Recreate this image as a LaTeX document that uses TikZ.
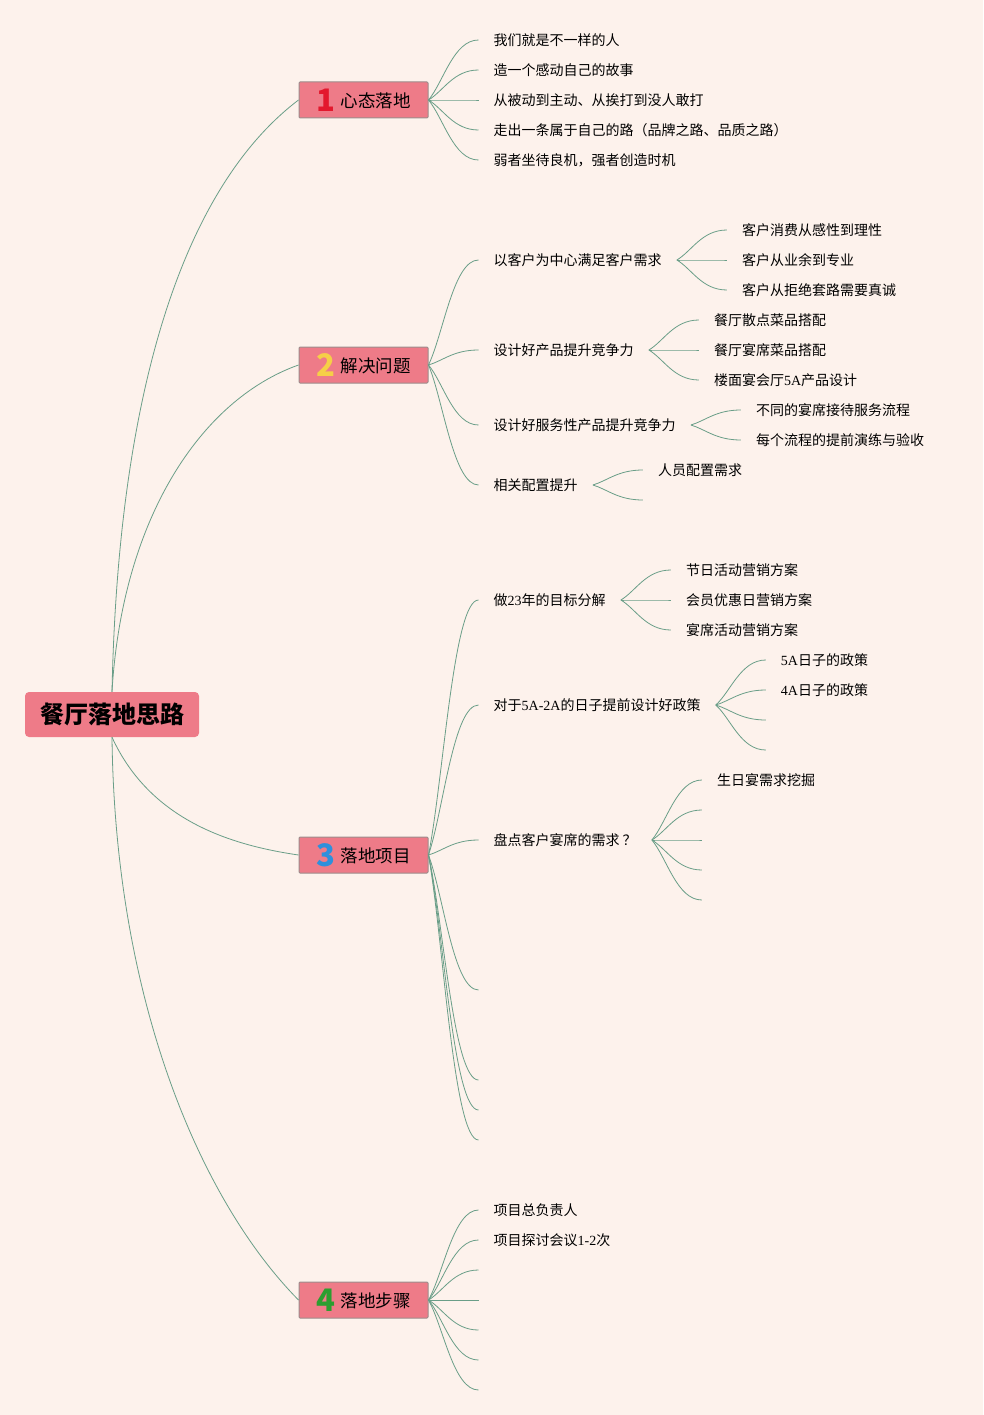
\documentclass[tikz,border=0pt]{standalone}
\usepackage{fontspec}
\setmainfont{Noto Sans CJK SC}
\newfontfamily\latn{Liberation Serif}
\usetikzlibrary{positioning,calc}
\definecolor{paper}{HTML}{FDF2EC}
\definecolor{pinkbox}{HTML}{EE7B88}
\definecolor{boxedge}{HTML}{9C8C8C}
\definecolor{twiggreen}{HTML}{6A9E88}
\definecolor{numred}{HTML}{E3182D}
\definecolor{numyellow}{HTML}{F6CF47}
\definecolor{numblue}{HTML}{2E90DC}
\definecolor{numgreen}{HTML}{2C9E30}
\tikzstyle{root} = [rectangle, fill=pinkbox, rounded corners=4pt,
minimum width=174pt, minimum height=45pt, font=\fontsize{24}{28}\selectfont\bfseries]
\tikzstyle{topic} = [rectangle, draw=boxedge, fill=pinkbox, line width=1pt, rounded corners=1pt,
minimum width=129pt, minimum height=36pt, font=\fontsize{17.5}{20}\selectfont]
\tikzstyle{leaf} = [inner xsep=15pt, inner ysep=1pt, font=\fontsize{14}{16}\selectfont]
\tikzstyle{link} = [draw=twiggreen, line width=0.8pt]
\tikzstyle{twig} = [link, to path={.. controls ($(\tikztostart)!0.3!(\tikztotarget)$)
and ($(\tikztostart|-\tikztotarget)!0.5!(\tikztotarget)$) .. (\tikztotarget)}]
\newcommand{\topicnum}[2]{\raisebox{-4pt}{\color{#1}\fontsize{31}{31}\selectfont\bfseries #2}\hspace{6pt}}

\begin{document}
\begin{tikzpicture}[x=1pt, y=-1pt, node distance=50pt]

	\path [use as bounding box, fill=paper] (0,0) rectangle (983,1415);

	% Root and main topics
	\node [root] (root) at (112,714.5) {餐厅落地思路};
	\node [topic] (b1) at (363.5,100) {\topicnum{numred}{1}心态落地};
	\node [topic] (b2) at (363.5,365) {\topicnum{numyellow}{2}解决问题};
	\node [topic] (b3) at (363.5,855) {\topicnum{numblue}{3}落地项目};
	\node [topic] (b4) at (363.5,1300) {\topicnum{numgreen}{4}落地步骤};

	% Topic 1
	\node [leaf, right=of b1, yshift=60pt] (mind1) {我们就是不一样的人};
	\node [leaf, right=of b1, yshift=30pt] (mind2) {造一个感动自己的故事};
	\node [leaf, right=of b1] (mind3) {从被动到主动、从挨打到没人敢打};
	\node [leaf, right=of b1, yshift=-30pt] (mind4) {走出一条属于自己的路（品牌之路、品质之路）};
	\node [leaf, right=of b1, yshift=-60pt] (mind5) {弱者坐待良机，强者创造时机};

	% Topic 2
	\node [leaf, right=of b2, yshift=105pt] (cust) {以客户为中心满足客户需求};
	\node [leaf, right=of b2, yshift=15pt] (prod) {设计好产品提升竞争力};
	\node [leaf, right=of b2, yshift=-60pt] (serv) {设计好服务性产品提升竞争力};
	\node [leaf, right=of b2, yshift=-120pt] (conf) {相关配置提升};

	\node [leaf, right=of cust, yshift=30pt] (cust1) {客户消费从感性到理性};
	\node [leaf, right=of cust] (cust2) {客户从业余到专业};
	\node [leaf, right=of cust, yshift=-30pt] (cust3) {客户从拒绝套路需要真诚};
	\node [leaf, right=of prod, yshift=30pt] (prod1) {餐厅散点菜品搭配};
	\node [leaf, right=of prod] (prod2) {餐厅宴席菜品搭配};
	\node [leaf, right=of prod, yshift=-30pt] (prod3) {楼面宴会厅{\latn 5A}产品设计};
	\node [leaf, right=of serv, yshift=15pt] (serv1) {不同的宴席接待服务流程};
	\node [leaf, right=of serv, yshift=-15pt] (serv2) {每个流程的提前演练与验收};
	\node [leaf, right=of conf, yshift=15pt] (conf1) {人员配置需求};
	\coordinate [right=of conf, yshift=-15pt] (conf2);

	% Topic 3
	\node [leaf, right=of b3, yshift=255pt] (goal) {做{\latn 23}年的目标分解};
	\node [leaf, right=of b3, yshift=150pt] (policy) {对于{\latn 5A-2A}的日子提前设计好政策};
	\node [leaf, right=of b3, yshift=15pt] (feast) {盘点客户宴席的需求\hspace{3pt}？\hspace{-3pt}};
	\coordinate [right=of b3, yshift=-135pt] (proj1);
	\coordinate [right=of b3, yshift=-225pt] (proj2);
	\coordinate [right=of b3, yshift=-255pt] (proj3);
	\coordinate [right=of b3, yshift=-285pt] (proj4);

	\node [leaf, right=of goal, yshift=30pt] (goal1) {节日活动营销方案};
	\node [leaf, right=of goal] (goal2) {会员优惠日营销方案};
	\node [leaf, right=of goal, yshift=-30pt] (goal3) {宴席活动营销方案};
	\node [leaf, right=of policy, yshift=45pt] (policy1) {{\latn 5A}日子的政策};
	\node [leaf, right=of policy, yshift=15pt] (policy2) {{\latn 4A}日子的政策};
	\coordinate [right=of policy, yshift=-15pt] (policy3);
	\coordinate [right=of policy, yshift=-45pt] (policy4);
	\node [leaf, right=of feast, yshift=60pt] (feast1) {生日宴需求挖掘};
	\coordinate [right=of feast, yshift=30pt] (feast2);
	\coordinate [right=of feast] (feast3);
	\coordinate [right=of feast, yshift=-30pt] (feast4);
	\coordinate [right=of feast, yshift=-60pt] (feast5);

	% Topic 4
	\node [leaf, right=of b4, yshift=90pt] (plan1) {项目总负责人};
	\node [leaf, right=of b4, yshift=60pt] (plan2) {项目探讨会议{\latn 1-2}次};
	\coordinate [right=of b4, yshift=30pt] (plan3);
	\coordinate [right=of b4] (plan4);
	\coordinate [right=of b4, yshift=-30pt] (plan5);
	\coordinate [right=of b4, yshift=-60pt] (plan6);
	\coordinate [right=of b4, yshift=-90pt] (plan7);

	% Edges from the root
	\path [link] (root.north) .. controls (118,400) and (180,190) .. (b1.west);
	\path [link] (root.north) .. controls (122,520) and (200,400) .. (b2.west);
	\path [link] (root.south) .. controls (150,820) and (230,845) .. (b3.west);
	\path [link] (root.south) .. controls (115,1000) and (200,1200) .. (b4.west);

	% Edges of topic 1
	\path [twig] (b1.east) to (mind1.west);
	\path [twig] (b1.east) to (mind2.west);
	\path [twig] (b1.east) to (mind3.west);
	\path [twig] (b1.east) to (mind4.west);
	\path [twig] (b1.east) to (mind5.west);

	% Edges of topic 2
	\path [twig] (b2.east) to (cust.west);
	\path [twig] (b2.east) to (prod.west);
	\path [twig] (b2.east) to (serv.west);
	\path [twig] (b2.east) to (conf.west);
	\path [twig] (cust.east) to (cust1.west);
	\path [twig] (cust.east) to (cust2.west);
	\path [twig] (cust.east) to (cust3.west);
	\path [twig] (prod.east) to (prod1.west);
	\path [twig] (prod.east) to (prod2.west);
	\path [twig] (prod.east) to (prod3.west);
	\path [twig] (serv.east) to (serv1.west);
	\path [twig] (serv.east) to (serv2.west);
	\path [twig] (conf.east) to (conf1.west);
	\path [twig] (conf.east) to (conf2);

	% Edges of topic 3
	\path [twig] (b3.east) to (goal.west);
	\path [twig] (b3.east) to (policy.west);
	\path [twig] (b3.east) to (feast.west);
	\path [twig] (b3.east) to (proj1);
	\path [twig] (b3.east) to (proj2);
	\path [twig] (b3.east) to (proj3);
	\path [twig] (b3.east) to (proj4);
	\path [twig] (goal.east) to (goal1.west);
	\path [twig] (goal.east) to (goal2.west);
	\path [twig] (goal.east) to (goal3.west);
	\path [twig] (policy.east) to (policy1.west);
	\path [twig] (policy.east) to (policy2.west);
	\path [twig] (policy.east) to (policy3);
	\path [twig] (policy.east) to (policy4);
	\path [twig] (feast.east) to (feast1.west);
	\path [twig] (feast.east) to (feast2);
	\path [twig] (feast.east) to (feast3);
	\path [twig] (feast.east) to (feast4);
	\path [twig] (feast.east) to (feast5);

	% Edges of topic 4
	\path [twig] (b4.east) to (plan1.west);
	\path [twig] (b4.east) to (plan2.west);
	\path [twig] (b4.east) to (plan3);
	\path [twig] (b4.east) to (plan4);
	\path [twig] (b4.east) to (plan5);
	\path [twig] (b4.east) to (plan6);
	\path [twig] (b4.east) to (plan7);

\end{tikzpicture}
\end{document}
